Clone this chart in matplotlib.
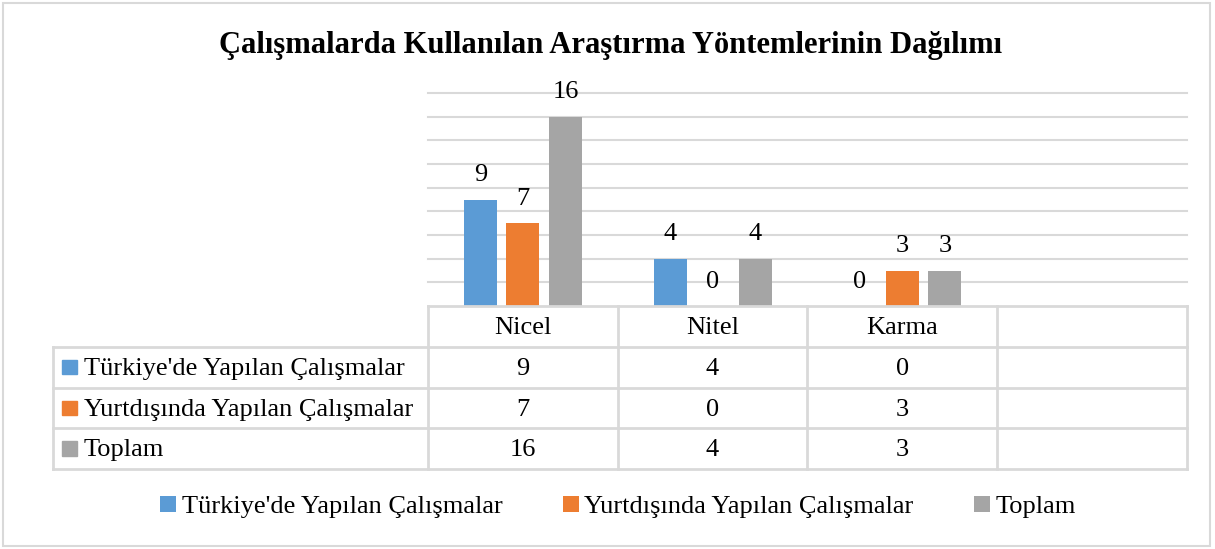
import numpy as np
import matplotlib.pyplot as plt
from matplotlib.patches import Patch, Rectangle

# Dados do gráfico
categorias = ['Nicel', 'Nitel', 'Karma', '']
series = ["Türkiye'de Yapılan Çalışmalar", 'Yurtdışında Yapılan Çalışmalar', 'Toplam']
turkiye = [9, 4, 0]
yurtdisi = [7, 0, 3]
toplam = [16, 4, 3]
cores = ['#5B9BD5', '#ED7D31', '#A5A5A5']
titulo = 'Çalışmalarda Kullanılan Araştırma Yöntemlerinin Dağılımı'

W, H = 1215, 549
plt.rcParams['font.family'] = ['Liberation Serif', 'DejaVu Serif']
fig = plt.figure(figsize=(W / 100, H / 100), dpi=100)
grade = '#D9D9D9'
fs = 19

# Borda da área do gráfico
fig.add_artist(Rectangle((3 / W, 3 / H), 1207 / W, 543 / H, transform=fig.transFigure,
                         fill=False, edgecolor=grade, lw=1.5))

fig.text(611 / W, 1 - 45 / H, titulo, ha='center', va='center', fontsize=22, fontweight='bold')

# Área de plotagem
ax = fig.add_axes([428 / W, 1 - 306 / H, (1187 - 428) / W, (306 - 93) / H])
ax.set_xlim(-0.5, 3.5)
ax.set_ylim(0, 18)
ax.set_yticks(np.arange(2, 19, 2))
ax.grid(axis='y', color=grade, lw=1.5)
for g in ax.get_ygridlines():
    g.set_clip_on(False)
ax.set_axisbelow(True)
ax.tick_params(left=False, bottom=False, labelleft=False, labelbottom=False)
for s in ax.spines.values():
    s.set_visible(False)

dados = [turkiye, yurtdisi, toplam]
x = np.arange(3)
larg = 0.174
desloc = 0.224
for i, vals in enumerate(dados):
    pos = x + (i - 1) * desloc
    ax.bar(pos, vals, width=larg, color=cores[i], zorder=2)
    for p, v in zip(pos, vals):
        ax.annotate(str(v), (p, v), xytext=(0, 17.5), textcoords='offset points',
                    ha='center', va='center', fontsize=fs)

# Tabela de dados
tab = fig.add_axes([53 / W, 1 - 469 / H, (1187 - 53) / W, (469 - 306) / H])
esq = -0.5 - 375 / 190
tab.set_xlim(esq, 3.5)
tab.set_ylim(4, 0)
tab.axis('off')
lk = dict(color=grade, lw=2, clip_on=False)
tab.plot([-0.5, 3.5], [0, 0], **lk)
for r in range(1, 5):
    tab.plot([esq, 3.5], [r, r], **lk)
tab.plot([esq, esq], [1, 4], **lk)
for c in np.arange(-0.5, 4, 1):
    tab.plot([c, c], [0, 4], **lk)

dy = 0.04
for j, cat in enumerate(categorias):
    tab.text(j, 0.5 + dy, cat, ha='center', va='center', fontsize=fs)
for i, nome in enumerate(series):
    tab.add_patch(Rectangle((esq + 9 / 190, i + 1.5 - 0.18), 15 / 190, 0.36,
                            color=cores[i], clip_on=False))
    tab.text(esq + 31 / 190, i + 1.5 + dy, nome, ha='left', va='center', fontsize=fs)
    for j, v in enumerate(dados[i]):
        tab.text(j, i + 1.5 + dy, str(v), ha='center', va='center', fontsize=fs)

# Legenda
handles = [Patch(facecolor=c, edgecolor='none') for c in cores]
fig.legend(handles, series, loc='center', bbox_to_anchor=(618 / W, 1 - 507 / H), ncol=3,
           frameon=False, fontsize=fs, handlelength=0.6, handleheight=0.6,
           handletextpad=0.2, columnspacing=2.3)

fig.savefig('out.png', dpi=100)
